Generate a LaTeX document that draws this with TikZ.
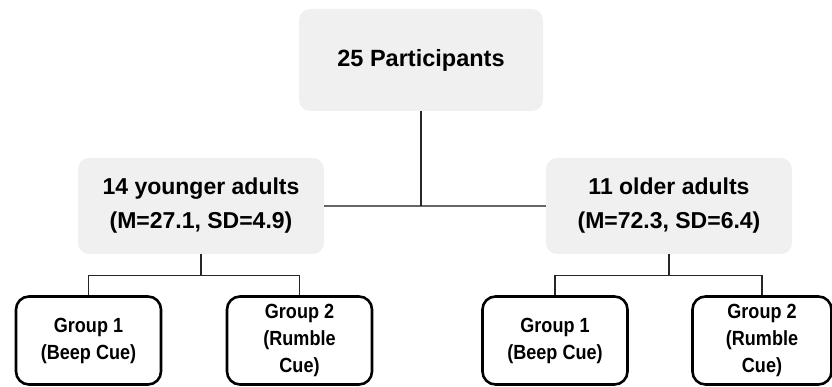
\documentclass[tikz,border=0pt]{standalone}
\usepackage{fontspec}
\setmainfont{Liberation Sans}
\newfontfamily\groupfont[FakeStretch=0.88]{Liberation Sans}
\usepackage{tikz}
\usetikzlibrary{positioning, calc}

\begin{document}
\begin{tikzpicture}[x=1pt, y=1pt,
    every node/.style={font=\bfseries, inner sep=2pt},
    graybox/.style={fill=black!6, rounded corners=11pt, minimum width=246pt, minimum height=96pt, align=center},
    groupbox/.style={draw=black, line width=2.6pt, fill=white, rounded corners=13pt, minimum width=145pt, minimum height=88pt, align=center, font=\groupfont\bfseries\fontsize{20.5}{27}\selectfont, execute at begin node=\rule{0pt}{27pt}},
    link/.style={draw=black!85, line width=1.3pt}]

    % 0. 画布大小
    \useasboundingbox (0, 0) rectangle (832, 387);

    % 1. 总人数
    \node[graybox, minimum width=244pt, minimum height=102pt, font=\bfseries\fontsize{23.5}{28}\selectfont] (total) at (421, 327) {25 Participants};

    % 2. 年龄分组
    \node[graybox, font=\bfseries\fontsize{23}{34}\selectfont] (young) at (201, 181) {14 younger adults\\(M=27.1, SD=4.9)};
    \node[graybox, font=\bfseries\fontsize{23}{34}\selectfont] (old) at (669, 181) {11 older adults\\(M=72.3, SD=6.4)};

    % 3. 提示音分组
    \node[groupbox] (yg1) at (88.5, 46.5) {Group 1\\(Beep Cue)};
    \node[groupbox] (yg2) at (299.5, 46.5) {Group 2\\(Rumble\\Cue)};
    \node[groupbox] (og1) at (555, 46.5) {Group 1\\(Beep Cue)};
    \node[groupbox, minimum width=139pt] (og2) at (762, 46.5) {Group 2\\(Rumble\\Cue)};

    % 连接线
    \draw[draw=black!60, line width=2.4pt] (young.east) -- (old.west);
    \draw[link] (total.south) -- (total.south |- young.east);

    \coordinate (ysplit) at ([yshift=-21pt]young.south);
    \coordinate (osplit) at ([yshift=-21pt]old.south);
    \draw[link] (young.south) -- (ysplit);
    \draw[link] (ysplit) -| (yg1.north);
    \draw[link] (ysplit) -| (yg2.north);
    \draw[link] (old.south) -- (osplit);
    \draw[link] (osplit) -| (og1.north);
    \draw[link] (osplit) -| (og2.north);

\end{tikzpicture}
\end{document}
